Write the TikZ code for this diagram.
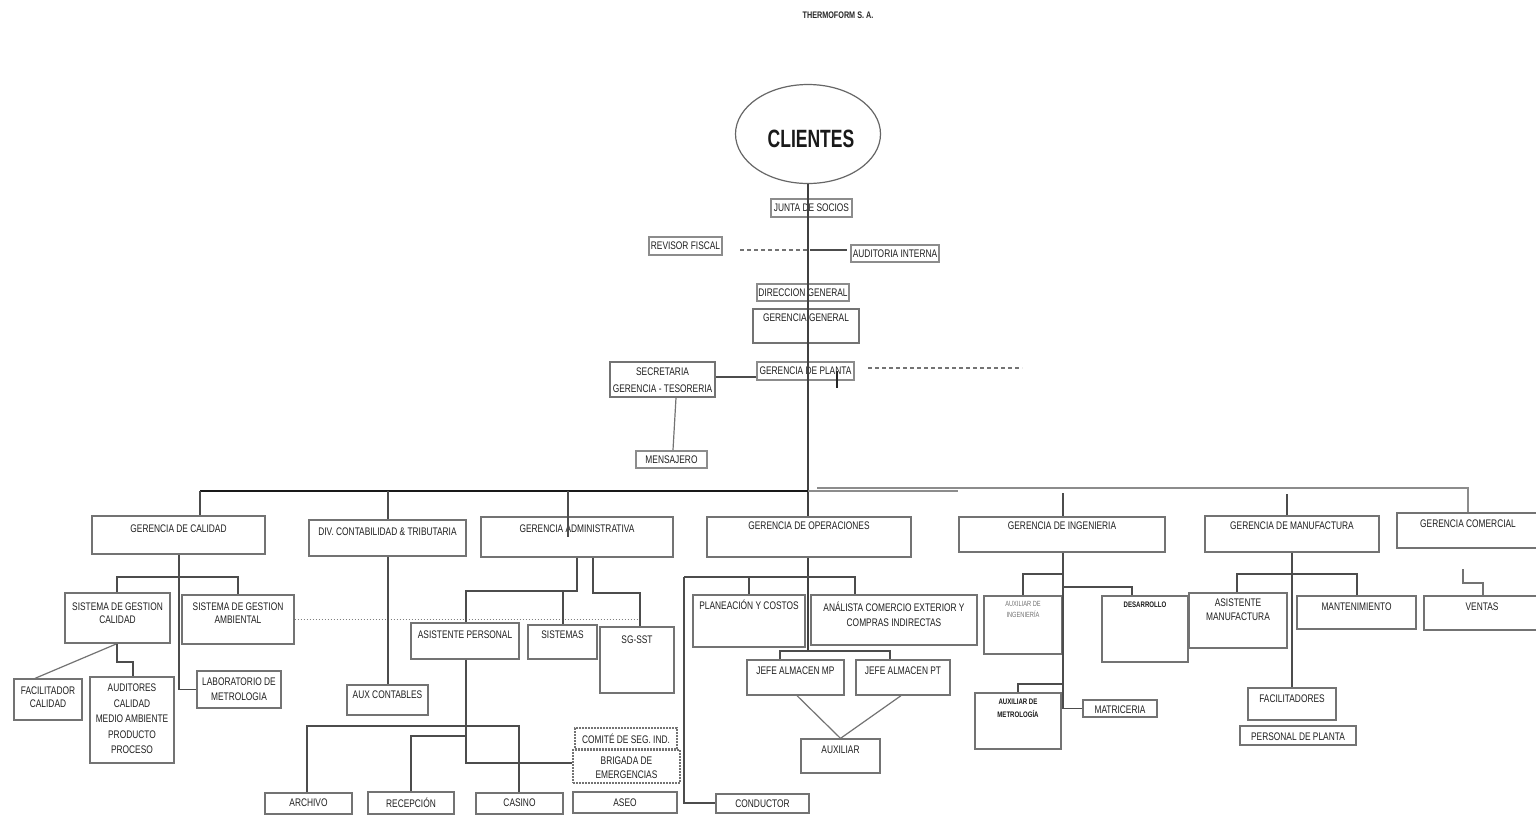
\documentclass[tikz,border=0pt]{standalone}
\usepackage{fontspec}
\setmainfont{Liberation Sans}
\newfontfamily\nar[FakeStretch=0.76]{Liberation Sans}
\newfontfamily\cnd[FakeStretch=0.7]{Liberation Sans}
\usetikzlibrary{fit,shapes.geometric}
\tikzset{
  box/.style={draw=black!55, line width=1.3pt, inner sep=0pt},
  sbox/.style={draw=black!45, line width=2.2pt, inner sep=0pt},
  dbox/.style={draw=black!55, line width=1.2pt, dash pattern=on 1.6pt off 1.4pt, inner sep=0pt},
  lbl/.style={font=\nar\fontsize{11}{14}\selectfont, text=black!88, align=center, inner sep=0pt},
  lsp/.style={font=\nar\fontsize{11}{#1}\selectfont},
  tinyg/.style={font=\nar\fontsize{7.5}{11}\selectfont, text=black!55},
  tinyb/.style={font=\nar\bfseries\fontsize{8}{13}\selectfont, text=black!90},
  ln/.style={draw=black!70, line width=1.2pt},
  mainln/.style={draw=black!75, line width=1.5pt},
  bus/.style={draw=black!90, line width=1.6pt},
  gln/.style={draw=black!45, line width=1.3pt},
  dsh/.style={draw=black!55, line width=1.1pt, dash pattern=on 4pt off 3pt},
  dtt/.style={draw=black!50, line width=1pt, dash pattern=on 1.5pt off 1.5pt},
}
% \bx[label options]{box style}{name}{x1}{y1}{x2}{y2}{text y}{text}
\newcommand\bx[9][]{%
  \node[#2, fit={(#4,#5) (#6,#7)}] (#3) {};
  \node[lbl,#1] (#3-t) at ({(#4+#6)/2},#8) {#9};}
\begin{document}
\begin{tikzpicture}[x=1pt,y=-1pt]
\clip (0,0) rectangle (1536,815);
\fill[white] (0,0) rectangle (1536,815);

% title and clients
\node[font=\nar\bfseries\fontsize{9.5}{11}\selectfont, text=black!85] (title) at (838,15) {THERMOFORM S. A.};
\node[ellipse, draw=black!60, line width=1.2pt, minimum width=145pt, minimum height=99pt, inner sep=0pt] (cli) at (808,134) {};
\node[font=\cnd\bfseries\fontsize{25}{28}\selectfont, text=black!90, inner sep=0pt] (cli-t) at (811,139) {CLIENTES};

% ---------- top boxes
\bx{sbox}{junta}{771}{199}{852}{217}{208}{JUNTA DE SOCIOS}
\bx{sbox}{rev}{649}{237}{722}{255}{246}{REVISOR FISCAL}
\bx{sbox}{aud}{851}{245}{939}{262}{253.5}{AUDITORIA INTERNA}
\bx{sbox}{dir}{757}{284}{849}{301}{292.5}{DIRECCION GENERAL}
\bx{box}{gg}{753}{309}{859}{343}{318}{GERENCIA GENERAL}
\bx[lsp=17]{box}{sec}{610}{362}{715}{397}{380.5}{SECRETARIA\\GERENCIA - TESORERIA}
\bx{sbox}{gp}{757}{362}{854}{380}{371}{GERENCIA DE PLANTA}
\bx{sbox}{men}{636}{451}{707}{468}{460}{MENSAJERO}

% ---------- level 2
\bx{box}{gcal}{92}{516}{265}{554}{529}{GERENCIA DE CALIDAD}
\bx{box}{div}{309}{520}{466}{556}{532}{DIV. CONTABILIDAD \& TRIBUTARIA}
\bx{box}{gadm}{481}{517}{673}{557}{529}{GERENCIA ADMINISTRATIVA}
\bx{box}{gop}{707}{517}{911}{557}{526}{GERENCIA DE OPERACIONES}
\bx{box}{ging}{959}{517}{1165}{552}{526}{GERENCIA DE INGENIERIA}
\bx{box}{gman}{1205}{516}{1379}{552}{526}{GERENCIA DE MANUFACTURA}
\bx{box}{gcom}{1397}{513}{1539}{548}{524}{GERENCIA COMERCIAL}

% ---------- calidad
\bx[lsp=13]{box}{sgc}{65}{593}{170}{643}{613.5}{SISTEMA DE GESTION\\CALIDAD}
\bx[lsp=13]{box}{sga}{182}{595}{294}{644}{613.5}{SISTEMA DE GESTION\\AMBIENTAL}
\bx[lsp=13]{box}{fac}{14}{679}{82}{720}{697.5}{FACILITADOR\\CALIDAD}
\bx[lsp=15.5]{box}{audc}{90}{677}{174}{763}{719}{AUDITORES\\CALIDAD\\MEDIO AMBIENTE\\PRODUCTO\\PROCESO}
\bx[lsp=15]{box}{lab}{197}{671}{281}{708}{689.5}{LABORATORIO DE\\METROLOGIA}

% ---------- contabilidad
\bx{box}{auxc}{347}{685}{428}{715}{695}{AUX CONTABLES}

% ---------- administrativa
\bx{box}{asp}{411}{623}{519}{659}{635}{ASISTENTE PERSONAL}
\bx{box}{sis}{528}{625}{597}{659}{635}{SISTEMAS}
\bx{box}{sst}{600}{627}{674}{693}{640}{SG-SST}
\bx{box}{arch}{265}{793}{352}{814}{803}{ARCHIVO}
\bx{box}{rec}{368}{792}{454}{814}{803}{RECEPCIÓN}
\bx{box}{cas}{476}{793}{563}{814}{803}{CASINO}
\bx{box}{aseo}{573}{792}{677}{813}{803}{ASEO}
\bx{dbox}{com}{575}{728}{677}{749}{739}{COMITÉ DE SEG. IND.}
\bx[lsp=14]{dbox}{bri}{573}{750}{680}{783}{768}{BRIGADA DE\\EMERGENCIAS}

% ---------- operaciones
\bx{box}{plan}{693}{595}{805}{647}{605}{PLANEACIÓN Y COSTOS}
\bx[lsp=15]{box}{ana}{811}{595}{977}{645}{614.5}{ANÁLISTA COMERCIO EXTERIOR Y\\COMPRAS INDIRECTAS}
\bx{box}{jmp}{747}{660}{844}{695}{671}{JEFE ALMACEN MP}
\bx{box}{jpt}{856}{660}{950}{695}{671}{JEFE ALMACEN PT}
\bx{box}{auxl}{801}{739}{880}{773}{750}{AUXILIAR}
\bx{box}{cond}{716}{794}{809}{813}{804}{CONDUCTOR}

% ---------- ingenieria
\bx[tinyg]{box}{ai}{984}{596}{1062}{654}{609.5}{AUXILIAR DE\\INGENIERÍA}
\bx[tinyb]{box}{des}{1102}{596}{1188}{662}{605}{DESARROLLO}
\bx[tinyb]{box}{am}{975}{693}{1061}{749}{708.5}{AUXILIAR DE\\METROLOGÍA}
\bx{box}{mat}{1083}{700}{1157}{717}{710}{MATRICERIA}

% ---------- manufactura
\bx[lsp=14]{box}{asman}{1189}{593}{1287}{648}{610}{ASISTENTE\\MANUFACTURA}
\bx{box}{mant}{1297}{596}{1416}{629}{607}{MANTENIMIENTO}
\bx{box}{facs}{1248}{688}{1336}{720}{699}{FACILITADORES}
\bx{box}{pers}{1240}{726}{1356}{745}{737}{PERSONAL DE PLANTA}

% ---------- comercial
\bx{box}{ven}{1424}{596}{1540}{630}{607}{VENTAS}

% ================= connectors
% main spine
\draw[mainln] (cli.south) -- (808,0 |- gop.north);
\draw[mainln] (808,0 |- gop.south) -- (808,651);
% revisor / auditoria
\draw[dsh] (740,250) -- (807,250);
\draw[ln] (810,250) -- (847,0 |- 0,250);
% secretaria
\draw[ln, line width=1.6pt] (sec.east |- 0,377) -- (gp.west |- 0,377);
\draw[ln, draw=black!85] (837,0 |- gp.center) -- (837,388);
\draw[dsh] (868,368) -- (1022,368);
\draw[ln, draw=black!55] (676,0 |- sec.south) -- (673,0 |- men.north);

% bus
\draw[bus] (200,491) -- (812,491);
\draw[gln] (817,488) -| (gcom.north);
\draw[gln] (808,491) -- (958,491);
\draw[ln] (200,491) -- (200,0 |- gcal.north);
\draw[ln] (388,491) -- (388,0 |- div.north);
\draw[ln] (568,491) -- (568,537);
\draw[ln] (1063,493) -- (1063,0 |- ging.north);
\draw[ln] (1287,494) -- (1287,0 |- gman.north);

% calidad
\draw[ln] (179,0 |- gcal.south) |- (lab.west);
\draw[ln] (117,0 |- sgc.north) |- (238,577) -- (238,0 |- sga.north);
\draw[dtt] (sga.east |- 0,619) -- (640,619);
\draw[ln, draw=black!55] (117,0 |- sgc.south) -- (35,0 |- fac.north);
\draw[ln] (117,0 |- sgc.south) |- (133,662) -- (133,0 |- audc.north);

% contabilidad
\draw[ln] (388,0 |- div.south) -- (388,0 |- auxc.north);

% administrativa
\draw[ln] (577,0 |- gadm.south) |- (466,591) -- (466,0 |- asp.north);
\draw[ln] (563,591) -- (563,0 |- sis.north);
\draw[ln] (593,0 |- gadm.south) |- (640,593) -- (640,0 |- sst.north);
\draw[ln] (466,0 |- asp.south) |- (bri.west |- 0,763);
\draw[ln] (307,0 |- arch.north) |- (519,726) -- (519,0 |- cas.north);
\draw[ln] (411,0 |- rec.north) |- (466,736);

% operaciones
\draw[ln] (684,577) -- (855,577) -- (855,0 |- ana.north);
\draw[ln] (749,577) -- (749,0 |- plan.north);
\draw[ln] (684,577) |- (cond.west |- 0,803);
\draw[ln] (780,0 |- jmp.north) |- (890,651) -- (890,0 |- jpt.north);
\draw[ln, draw=black!55] (797,0 |- jmp.south) -- (auxl.north);
\draw[ln, draw=black!55] (901,0 |- jpt.south) -- (auxl.north);

% ingenieria
\draw[ln] (1063,0 |- ging.south) |- (mat.west);
\draw[ln] (1063,574) -| (1023,0 |- ai.north);
\draw[ln] (1063,587) -| (1132,0 |- des.north);
\draw[ln] (1063,684) -| (1018,0 |- am.north);

% manufactura
\draw[ln] (1292,0 |- gman.south) -- (1292,0 |- facs.north);
\draw[ln] (1237,0 |- asman.north) |- (1357,574) -- (1357,0 |- mant.north);

% comercial
\draw[ln, draw=black!55] (1463,569) |- (1483,583) -- (1483,0 |- ven.north);
\end{tikzpicture}
\end{document}
